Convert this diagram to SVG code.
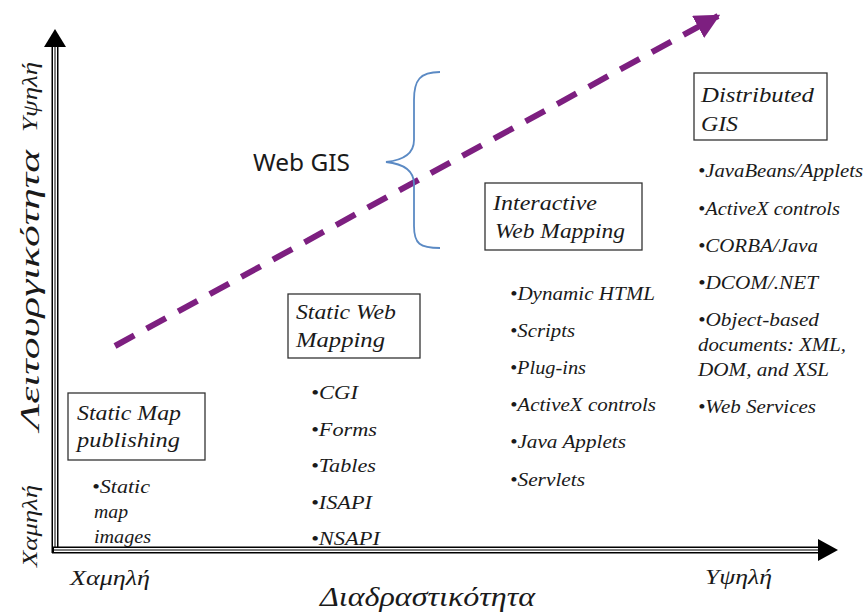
<svg xmlns="http://www.w3.org/2000/svg" width="866" height="614" viewBox="0 0 866 614">
<defs>
<style>
.t{font-family:'Liberation Serif','DejaVu Serif',serif;font-style:italic;fill:#1a1a1a}
.box{font-size:21px}
.li{font-size:18px}
.frame{fill:#fff;stroke:#333;stroke-width:1.3}
</style>
<marker id="pa" viewBox="0 0 10 10" refX="9" refY="5" markerWidth="4.2" markerHeight="4.2" orient="auto" markerUnits="strokeWidth">
<path d="M0,0 L10,5 L0,10 z" fill="#7d1f80"/>
</marker>
</defs>
<rect width="866" height="614" fill="#fff"/>

<g id="axes">
<line x1="55" y1="553" x2="55" y2="45" stroke="#000" stroke-width="7"/>
<line x1="55" y1="551" x2="55" y2="46" stroke="#fff" stroke-width="4"/>
<line x1="55" y1="551" x2="55" y2="46" stroke="#000" stroke-width="1"/>
<polygon points="44,47 66,47 55,29" fill="#000"/>
<line x1="52" y1="550" x2="820" y2="550" stroke="#000" stroke-width="7"/>
<line x1="54" y1="550" x2="820" y2="550" stroke="#fff" stroke-width="4"/>
<line x1="54" y1="550" x2="820" y2="550" stroke="#000" stroke-width="1"/>
<polygon points="818,539 818,561 838,550" fill="#000"/>
</g>

<g id="axis-labels" lengthAdjust="spacingAndGlyphs">
<text class="t" transform="translate(39,290) rotate(-90)" text-anchor="middle" font-size="28" textLength="280" lengthAdjust="spacingAndGlyphs">Λειτουργικότητα</text>
<text class="t" transform="translate(37,97) rotate(-90)" text-anchor="middle" font-size="20" textLength="70" lengthAdjust="spacingAndGlyphs">Υψηλή</text>
<text class="t" transform="translate(37,526) rotate(-90)" text-anchor="middle" font-size="21" textLength="82" lengthAdjust="spacingAndGlyphs">Χαμηλή</text>
<text class="t" x="70" y="585" font-size="21" textLength="80" lengthAdjust="spacingAndGlyphs">Χαμηλή</text>
<text class="t" x="320" y="606" font-size="27" textLength="215" lengthAdjust="spacingAndGlyphs">Διαδραστικότητα</text>
<text class="t" x="705" y="584" font-size="21" textLength="67" lengthAdjust="spacingAndGlyphs">Υψηλή</text>
</g>

<g id="static-map">
<rect class="frame" x="68" y="393" width="137" height="67"/>
<text class="t box" x="77" y="420" textLength="104" lengthAdjust="spacingAndGlyphs">Static Map</text>
<text class="t box" x="77" y="447" textLength="103" lengthAdjust="spacingAndGlyphs">publishing</text>
<text class="t li" x="92" y="493" textLength="58" lengthAdjust="spacingAndGlyphs">•Static</text>
<text class="t li" x="94" y="518" textLength="34" lengthAdjust="spacingAndGlyphs">map</text>
<text class="t li" x="94" y="543" textLength="57" lengthAdjust="spacingAndGlyphs">images</text>
</g>

<g id="static-web">
<rect class="frame" x="288" y="294" width="132" height="64"/>
<text class="t box" x="296" y="319" textLength="100" lengthAdjust="spacingAndGlyphs">Static Web</text>
<text class="t box" x="296" y="347" textLength="89" lengthAdjust="spacingAndGlyphs">Mapping</text>
<text class="t li" x="311" y="399" textLength="47" lengthAdjust="spacingAndGlyphs">•CGI</text>
<text class="t li" x="311" y="436" textLength="66" lengthAdjust="spacingAndGlyphs">•Forms</text>
<text class="t li" x="311" y="472" textLength="65" lengthAdjust="spacingAndGlyphs">•Tables</text>
<text class="t li" x="311" y="509" textLength="61" lengthAdjust="spacingAndGlyphs">•ISAPI</text>
<text class="t li" x="311" y="545" textLength="69" lengthAdjust="spacingAndGlyphs">•NSAPI</text>
</g>

<g id="interactive">
<rect class="frame" x="485" y="183" width="157" height="67"/>
<text class="t box" x="493" y="210" textLength="104" lengthAdjust="spacingAndGlyphs">Interactive</text>
<text class="t box" x="495" y="238" textLength="130" lengthAdjust="spacingAndGlyphs">Web Mapping</text>
<text class="t li" x="510" y="300" textLength="145" lengthAdjust="spacingAndGlyphs">•Dynamic HTML</text>
<text class="t li" x="510" y="337" textLength="65" lengthAdjust="spacingAndGlyphs">•Scripts</text>
<text class="t li" x="510" y="374" textLength="76" lengthAdjust="spacingAndGlyphs">•Plug-ins</text>
<text class="t li" x="510" y="411" textLength="146" lengthAdjust="spacingAndGlyphs">•ActiveX controls</text>
<text class="t li" x="510" y="448" textLength="116" lengthAdjust="spacingAndGlyphs">•Java Applets</text>
<text class="t li" x="510" y="486" textLength="75" lengthAdjust="spacingAndGlyphs">•Servlets</text>
</g>

<g id="distributed">
<rect class="frame" x="694" y="73" width="133" height="67"/>
<text class="t box" x="701" y="102" textLength="113" lengthAdjust="spacingAndGlyphs">Distributed</text>
<text class="t box" x="701" y="131" textLength="37" lengthAdjust="spacingAndGlyphs">GIS</text>
<text class="t li" x="698" y="177" textLength="165" lengthAdjust="spacingAndGlyphs">•JavaBeans/Applets</text>
<text class="t li" x="698" y="215" textLength="142" lengthAdjust="spacingAndGlyphs">•ActiveX controls</text>
<text class="t li" x="698" y="252" textLength="120" lengthAdjust="spacingAndGlyphs">•CORBA/Java</text>
<text class="t li" x="698" y="289" textLength="120" lengthAdjust="spacingAndGlyphs">•DCOM/.NET</text>
<text class="t li" x="698" y="326" textLength="121" lengthAdjust="spacingAndGlyphs">•Object-based</text>
<text class="t li" x="698" y="351" textLength="148" lengthAdjust="spacingAndGlyphs">documents: XML,</text>
<text class="t li" x="698" y="376" textLength="131" lengthAdjust="spacingAndGlyphs">DOM, and XSL</text>
<text class="t li" x="698" y="413" textLength="118" lengthAdjust="spacingAndGlyphs">•Web Services</text>
</g>

<g id="connectors">
<line x1="115" y1="346" x2="718" y2="16" stroke="#7d1f80" stroke-width="6" stroke-dasharray="22,14" marker-end="url(#pa)"/>
</g>

<g id="webgis">
<path d="M440,72 C420,72 414,80 414,100 L414,140 C414,152 405,160 386,162 C405,164 414,172 414,184 L414,226 C414,244 420,248 440,248" fill="none" stroke="#5b8ac4" stroke-width="1.8"/>
<text x="253" y="171" font-family="'Noto Sans','Open Sans',sans-serif" font-size="23" fill="#1a1a1a" textLength="97" lengthAdjust="spacingAndGlyphs">Web GIS</text>
</g>
</svg>
